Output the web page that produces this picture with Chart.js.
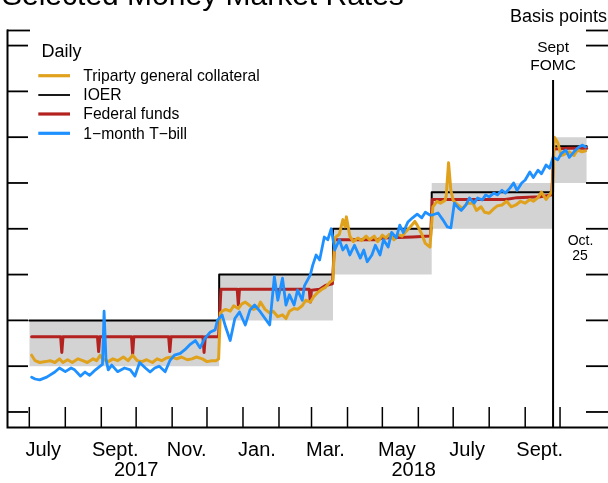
<!DOCTYPE html>
<html><head><meta charset="utf-8">
<script src="https://cdn.jsdelivr.net/npm/chart.js@4/dist/chart.umd.min.js"></script>
<style>
html,body{margin:0;padding:0;overflow:hidden;background:#fff;width:608px;height:483px}
#wrap{position:absolute;left:0;top:0;width:616px;height:483px}
</style>
</head><body><div id="wrap"><canvas id="c" width="616" height="483"></canvas></div>
<script>
// x values are days since July 1, 2017
const monthTickDays = [0,31,62,92,123,153,184,215,243,274,304,335,365,396,427,457];
const monthLabels = ['July','Sept.','Nov.','Jan.','Mar.','May','July','Sept.'];
const monthLabelDays = [12,74,135.5,196,255,316.5,377,439.5];
const yearLabels = ['2017','2018'];
const yearLabelDays = [92,331];
const yTickValues = [75,100,125,150,175,200,225,250,275];
const fomcDay = 451;

// FOMC target range (shaded)
const rangeDays   = [0,163.5,163.5,261.5,261.5,346.5,346.5,451,451,480];
const rangeTop    = [125,125,150,150,175,175,200,200,225,225];
const rangeBottom = [100,100,125,125,150,150,175,175,200,200];

// IOER
const ioerDays = [0,163.5,163.5,261.5,261.5,346.5,346.5,451,451,480];
const ioerVals = [125,125,150,150,175,175,195,195,220,220];

// Federal funds
const ffDays = [2,27,28,29,58.7,59.7,60.7,88,89,90,120,121,122,149.5,150.5,151.5,163,165,179,180,181,213,214,215,241,242,243,250,255,261,263,300,304,330,345.5,347,410,420,440,450,451.5,465,480];
const ffVals = [116,116,107.5,116,116,108,116,116,106.5,116,116,108,116,116,107.5,116,116,142,142,133.5,142,142,140,142,142,135,141.5,142,144,145,169,169,170,170.5,171,191,191,192,192.5,193.5,218.5,219,219];

// Triparty general collateral
const tgcDays = [2,5,9,14,18,22,26,29,33,37,42,46,50,55,58,61,63,68,72,76,81,85,89,93,97,101,106,110,114,118,123,127,131,136,140,144,149,153,157,161,163,164.5,166,169,173,176,180,183,186,190,193,197,199,203,207,210,214,218,221,224,228,231,235,238,242,245,248,252,255,259,261.5,263,267,270,272,273,276,279,283,286,290,293,297,300,304,307,310,314,317,321,325,328,332,334,338,341,345,347.5,351,354,358,359,361,363,365,369,373,377,382,385,389,392,396,400,403,407,411,415,419,423,427,431,434,438,441,445,448,450.5,452,455,458,462,465,469,472,476,479];
const tgcVals = [106,103,102,102.5,103,102,104,102,103.5,102,104,103,102,104,103,106,104,102.5,104,103,105,103,106,103,102.5,103.5,102,104,103,104.5,105,104,105,103.5,104,105,104,102.5,103,103,104,129,130,131,130,133,131.5,134,135,133,131,132,135,131,129,130,127,128,126,130,131.5,131,133,136,135,138,140,142,143,146,147,170,172,180,176,181.5,171,168,170,168.5,171,169,171,168,171.5,170,172,169,172,171,174,176,179,177,172,167,165,187,190,189,190.5,193,211,196,190.5,188,186,189,189,185,187,184,183.5,186,187.5,188,190,187,188,190,189,191,190,192,195,191,193.5,196,225,222,215,216,217,215,218,217,217.5];

// 1-month Treasury bill
const tbDays = [2,5,9,15,22,26,31,36,39,44,48,52,57,61,63,64.4,66,68,71,76,82,87,91,95,100,104,108,112,117,121,125,130,134,138,143,147,151,156,160,162,166,169,173,177,181,186,190,194,199,203,207,211,214,218,221,224,228,231,235,237,242,244,247,250,254,257,260,263,267,270,273,276,280,285,288,291,295,298,302,305,309,312,316,319,322,326,330,334,338,341,345,347,352,356,360,363,366,370,372,376,379,383,386,390,393,396,400,403,407,410,414,417,420,424,427,431,434,438,441,445,448,451,455,458,462,465,469,472,476,479];
const tbVals = [94,93,92.5,94,96.8,99,97,99,98,94.6,96.8,95,98,100,101,130,104,98,100.6,97,99,98,94.6,102,99,96.8,99,100,97,103,106,107,109,111.6,114,110,115,118.7,119.8,125,128,121.5,114,126,129.6,122.5,130.7,133.4,129.6,126,122.5,148.8,136,148,133.4,139,133.4,141.6,136,144,149.8,155,160.7,158,170.5,169,175,163.4,169,163.4,166,160.7,166,159,163.4,157,160.7,166,160.7,169,165,173,170,177,173,178.7,181,183,181,184,182.5,182.5,183.6,180,176,175.5,189,186,185,188,191.8,189,191.8,190.7,193.5,192.4,194.5,193.5,196,194.5,197.3,200,196,200,201.6,206,203,207,205,209.8,208,214,212.6,216,218,214,217,219,220.7,219.6];

const legendNames = ['Triparty general collateral','IOER','Federal funds','1\u2212month T\u2212bill'];
const COL = {tgc:'#e0a21c', ioer:'#000000', ff:'#b3221f', tb:'#1e90ff', range:'#d3d3d3'};
const FONT = '"Liberation Sans", Arial, Helvetica, sans-serif';

const pts = (xs, ys) => xs.map((x,i)=>({x:x, y:ys[i]}));

function txt(ctx, s, x, y, size, align){
  ctx.font = size + 'px ' + FONT;
  ctx.textAlign = align || 'left';
  ctx.textBaseline = 'alphabetic';
  ctx.fillStyle = '#000';
  ctx.fillText(s, x, y);
}

const decor = {
  id: 'decor',
  afterDatasetsDraw(chart){
    const ctx = chart.ctx, ca = chart.chartArea;
    const xs = chart.scales.x, ys = chart.scales.y;
    ctx.save();
    ctx.strokeStyle = '#000';
    ctx.lineCap = 'butt';
    // FOMC vertical line
    const fx = xs.getPixelForValue(fomcDay);
    ctx.lineWidth = 2;
    ctx.beginPath(); ctx.moveTo(fx, 80); ctx.lineTo(fx, ca.bottom); ctx.stroke();
    // left axis and bottom axis
    ctx.lineWidth = 2;
    ctx.beginPath(); ctx.moveTo(ca.left+0.5, ca.top-0.5); ctx.lineTo(ca.left+0.5, ca.bottom+0.5); ctx.lineTo(ca.right+12, ca.bottom+0.5); ctx.stroke();
    // y ticks (inward, both sides) including top bound
    ctx.lineWidth = 1.8;
    const yt = yTickValues.concat([ys.max]);
    yt.forEach(v=>{
      const y = ys.getPixelForValue(v);
      const yy = (v===ys.max) ? y+0.5 : y;
      ctx.beginPath(); ctx.moveTo(ca.left, yy); ctx.lineTo(ca.left + (v===ys.max?23:21), yy); ctx.stroke();
      ctx.beginPath(); ctx.moveTo(ca.right - 22, yy); ctx.lineTo(ca.right + 10, yy); ctx.stroke();
    });
    // x ticks (inward)
    ctx.lineWidth = 1.5;
    monthTickDays.forEach(d=>{
      const x = xs.getPixelForValue(d);
      ctx.beginPath(); ctx.moveTo(x, ca.bottom); ctx.lineTo(x, ca.bottom - 20); ctx.stroke();
    });
    // x labels
    monthLabels.forEach((s,i)=> txt(ctx, s, xs.getPixelForValue(monthLabelDays[i]), 456, 20, 'center'));
    yearLabels.forEach((s,i)=> txt(ctx, s, xs.getPixelForValue(yearLabelDays[i]), 476, 20, 'center'));
    // title (cropped at top) and unit
    txt(ctx, 'Selected Money Market Rates', 2, 5, 30, 'left');
    txt(ctx, 'Basis points', 607, 22, 18, 'right');
    // annotations
    txt(ctx, 'Sept', fx, 51.5, 15.5, 'center');
    txt(ctx, 'FOMC', fx, 70, 15.5, 'center');
    txt(ctx, 'Oct.', 580.5, 244.5, 14, 'center');
    txt(ctx, '25', 580, 260, 14, 'center');
    // legend
    txt(ctx, 'Daily', 41.5, 56.5, 18, 'left');
    const lc = [COL.tgc, COL.ioer, COL.ff, COL.tb];
    const lw = [3.2, 1.8, 3.2, 3.2];
    const ly = [75.7, 95, 114, 133.3];
    legendNames.forEach((s,i)=>{
      ctx.strokeStyle = lc[i]; ctx.lineWidth = lw[i];
      ctx.beginPath(); ctx.moveTo(38.3, ly[i]); ctx.lineTo(70, ly[i]); ctx.stroke();
      txt(ctx, s, 83.3, ly[i] + 5.3, 15.7, 'left');
    });
    ctx.restore();
  }
};

new Chart(document.getElementById('c'), {
  type: 'line',
  data: {
    datasets: [
      {label:'range top', data: pts(rangeDays, rangeTop), fill: 1, backgroundColor: COL.range, borderColor:'rgba(0,0,0,0)', borderWidth: 0, pointRadius: 0, order: 10},
      {label:'range bottom', data: pts(rangeDays, rangeBottom), fill: false, borderColor:'rgba(0,0,0,0)', borderWidth: 0, pointRadius: 0, order: 11},
      {label: legendNames[1], data: pts(ioerDays, ioerVals), borderColor: COL.ioer, borderWidth: 2, pointRadius: 0, fill:false, order: 4},
      {label: legendNames[2], data: pts(ffDays, ffVals), borderColor: COL.ff, borderWidth: 3, pointRadius: 0, fill:false, order: 3},
      {label: legendNames[0], data: pts(tgcDays, tgcVals), borderColor: COL.tgc, borderWidth: 3, pointRadius: 0, fill:false, order: 2},
      {label: legendNames[3], data: pts(tbDays, tbVals), borderColor: COL.tb, borderWidth: 2.8, pointRadius: 0, fill:false, order: 1}
    ]
  },
  options: {
    responsive: false,
    animation: false,
    devicePixelRatio: 1,
    layout: {padding: {left: 7, top: 30, right: 8, bottom: 56}},
    elements: {line: {tension: 0, borderJoinStyle: 'round', borderCapStyle: 'round'}, point: {radius: 0}},
    plugins: {legend: {display: false}, tooltip: {enabled: false}, title: {display: false}},
    scales: {
      x: {type: 'linear', min: -19.2, max: 498.3, display: false},
      y: {type: 'linear', min: 66.8, max: 283.5, display: false}
    }
  },
  plugins: [decor]
});
</script>
</body></html>
